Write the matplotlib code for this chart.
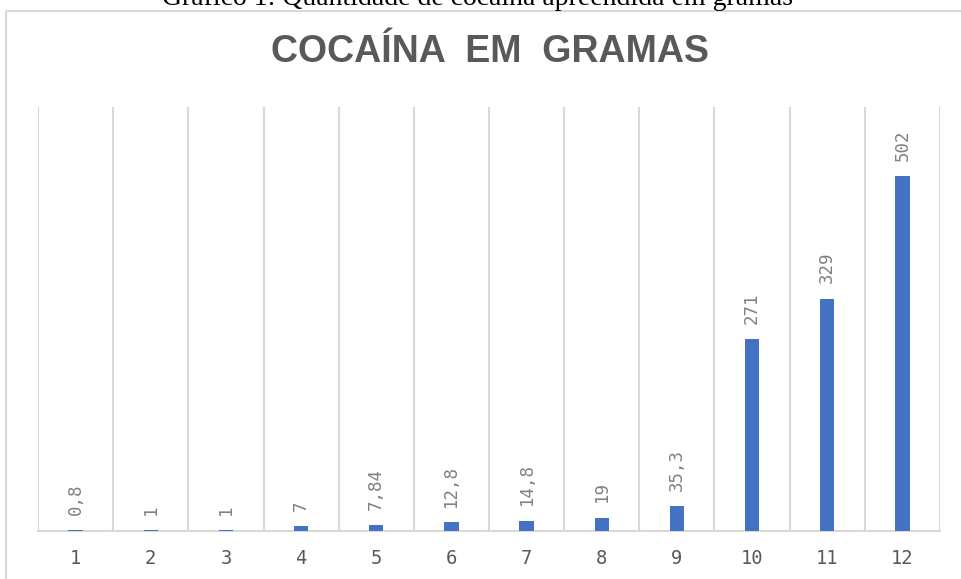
import matplotlib.pyplot as plt
from matplotlib.patches import Rectangle
from matplotlib.ticker import FixedLocator

# dados do grafico
categorias = ['1', '2', '3', '4', '5', '6', '7', '8', '9', '10', '11', '12']
valores = [0.8, 1, 1, 7, 7.84, 12.8, 14.8, 19, 35.3, 271, 329, 502]
rotulos = ['0,8', '1', '1', '7', '7,84', '12,8', '14,8', '19', '35,3', '271', '329', '502']

W, H = 961, 579
fig = plt.figure(figsize=(W / 100, H / 100), dpi=100)

# moldura do grafico (cortada na direita e embaixo)
fig.patches.append(Rectangle((5.5 / W, -0.1), 1.2, 1.1 - 11 / H, transform=fig.transFigure,
                             fill=False, edgecolor='#D9D9D9', linewidth=1.5, zorder=0))

# legenda do documento, cortada no topo como na imagem original
fig.text(478 / W, 1 - 5 / H, 'Gráfico 1: Quantidade de cocaína apreendida em gramas',
         ha='center', va='baseline', fontsize=20, family='Liberation Serif', color='black')

ax = fig.add_axes([38 / W, 1 - 531 / H, (940 - 38) / W, (531 - 107) / H])
x = list(range(1, len(valores) + 1))
ax.bar(x, valores, width=0.19, color='#4472C4', zorder=3)

for xi, v, r in zip(x, valores, rotulos):
    ax.annotate(r, (xi, v), xytext=(0, 11), textcoords='offset points',
                rotation=90, ha='center', va='bottom', fontsize=12.5,
                family='DejaVu Sans Mono', color='#808080')

ax.set_xlim(0.5, 12.5)
ax.set_ylim(0, 600)
ax.set_xticks(x)
ax.set_xticklabels(categorias, fontsize=13.5, color='#595959', family='DejaVu Sans Mono')
ax.xaxis.set_minor_locator(FixedLocator([i + 0.5 for i in range(0, 13)]))
ax.tick_params(axis='x', which='both', length=0, pad=13)
ax.grid(axis='x', which='minor', color='#D9D9D9', linewidth=1.5, zorder=0)
ax.set_yticks([])
for s in ['left', 'right', 'top']:
    ax.spines[s].set_visible(False)
ax.spines['bottom'].set_color('#D9D9D9')
ax.spines['bottom'].set_linewidth(1.5)

fig.text(490 / W, 1 - 52 / H, 'COCAÍNA  EM  GRAMAS', ha='center', va='center',
         fontsize=27, fontweight='bold', color='#595959', family='Liberation Sans')

fig.savefig('out.png', dpi=100)
